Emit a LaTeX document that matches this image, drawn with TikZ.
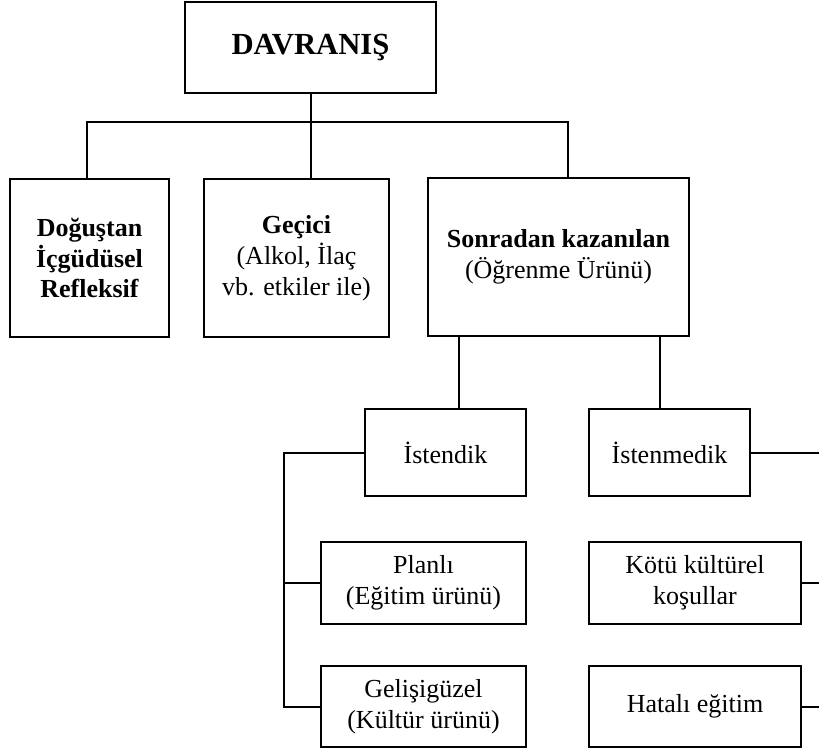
\documentclass[tikz,border=0pt]{standalone}
\usepackage{fontspec}
\setmainfont{Liberation Serif}
\begin{document}
\begin{tikzpicture}[x=0.75pt,y=-0.75pt,
  box/.style 2 args={draw, line width=1.8pt, inner sep=0pt, align=center,
    minimum width=#1*0.75pt, minimum height=#2*0.75pt,
    font=\fontsize{19.5pt}{23.2pt}\selectfont},
  conn/.style={line width=1.5pt}]
\useasboundingbox (0,0) rectangle (819,753);
% nodes
\node[box={251}{91}, font=\fontsize{23pt}{26pt}\selectfont\bfseries] (top) at (310.5,47.5) {DAVRANIŞ};
\node[box={159}{158}, font=\fontsize{19.5pt}{23.2pt}\selectfont\bfseries] (b1) at (89.5,258) {Doğuştan\\İçgüdüsel\\Refleksif};
\node[box={185}{158}] (b2) at (296.5,258) {\textbf{Geçici}\\(Alkol, İlaç\\vb. etkiler ile)};
\node[box={261}{158}] (b3) at (558.5,257) {\textbf{Sonradan kazanılan}\\(Öğrenme Ürünü)};
\node[box={161}{87}] (ist) at (445.5,452.5) {İstendik};
\node[box={161}{87}] (istm) at (669.5,452.5) {İstenmedik};
\node[box={205}{82}] (plan) at (423.5,583) {Planlı\\(Eğitim ürünü)};
\node[box={205}{81}] (gel) at (423.5,706.5) {Gelişigüzel\\(Kültür ürünü)};
\node[box={212}{82}] (kotu) at (695,583) {Kötü kültürel\\koşullar};
\node[box={212}{81}] (hat) at (695,706.5) {Hatalı eğitim};
% helper coordinates
\coordinate (busL) at (87,122);
\coordinate (busR) at (568,122);
\coordinate (sL) at (459,0);
\coordinate (sR) at (660,0);
\coordinate (lb) at (284,0);
\coordinate (re) at (819,0);
% connectors
\draw[conn] (top.south) -- (top.south |- busL);
\draw[conn] (b1.north -| busL) -- (busL) -- (busR) -- (b3.north -| busR);
\draw[conn] (b2.north -| top.south) -- (top.south |- busL);
\draw[conn] (b3.south -| sL) -- (ist.north -| sL);
\draw[conn] (b3.south -| sR) -- (istm.north -| sR);
\draw[conn] (ist.west) -- (ist.west -| lb) -- (lb |- gel.west) -- (gel.west);
\draw[conn] (lb |- plan.west) -- (plan.west);
\draw[conn] (istm.east) -- (istm.east -| re);
\draw[conn] (kotu.east) -- (kotu.east -| re);
\draw[conn] (hat.east) -- (hat.east -| re);
\end{tikzpicture}
\end{document}
